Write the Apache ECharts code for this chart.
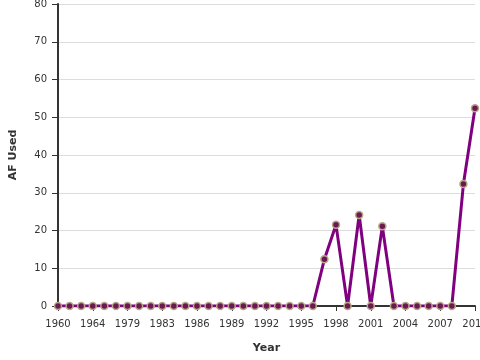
<!DOCTYPE html>
<html><head><meta charset="utf-8">
<script src="https://cdn.jsdelivr.net/npm/echarts@6/dist/echarts.min.js"></script>
<style>html,body{margin:0;padding:0;background:#fff}#c{width:480px;height:360px}</style>
</head><body><div id="c"></div>
<script>
var years = ['1960','1961','1962','1964','1965','1970','1979','1981','1982','1983','1984','1985','1986','1987','1988','1989','1990','1991','1992','1993','1994','1995','1996','1997','1998','1999','2000','2001','2002','2003','2004','2005','2006','2007','2008','2009','2010'];
var afUsed = [0,0,0,0,0,0,0,0,0,0,0,0,0,0,0,0,0,0,0,0,0,0,0,12.4,21.5,0,24.1,0,21.1,0,0,0,0,0,0,32.3,52.4];
var yTicks = {min:0, max:80, interval:10};
var chart = echarts.init(document.getElementById('c'));
var font = 'DejaVu Sans';
chart.setOption({
  animation:false,
  grid:{left:58,right:5,top:4,bottom:54,containLabel:false,outerBoundsMode:'none'},
  xAxis:{type:'category',data:years,boundaryGap:false,
    name:'Year',nameLocation:'middle',nameGap:37,
    nameTextStyle:{fontFamily:font,fontSize:11,fontWeight:'bold',color:'#333'},
    axisLine:{lineStyle:{color:'#333',width:2}},
    axisTick:{interval:2,length:5,lineStyle:{color:'#333'}},
    axisLabel:{interval:2,fontFamily:font,fontSize:10,color:'#333',margin:13,hideOverlap:false},
    splitLine:{show:false}},
  yAxis:{type:'value',min:yTicks.min,max:yTicks.max,interval:yTicks.interval,
    name:'AF Used',nameLocation:'middle',nameGap:39,
    nameTextStyle:{fontFamily:font,fontSize:11,fontWeight:'bold',color:'#333'},
    axisLine:{show:true,lineStyle:{color:'#333',width:2}},
    axisTick:{show:true,length:6,lineStyle:{color:'#333'}},
    axisLabel:{fontFamily:font,fontSize:10,color:'#333',margin:11},
    splitLine:{lineStyle:{color:'#ddd'}}},
  series:[{type:'line',data:afUsed,symbol:'circle',symbolSize:7,
    lineStyle:{color:'#800080',width:3},
    itemStyle:{color:'#6b1a4f',borderColor:'#b8a88a',borderWidth:1.5},
    z:3}]
});
</script></body></html>
